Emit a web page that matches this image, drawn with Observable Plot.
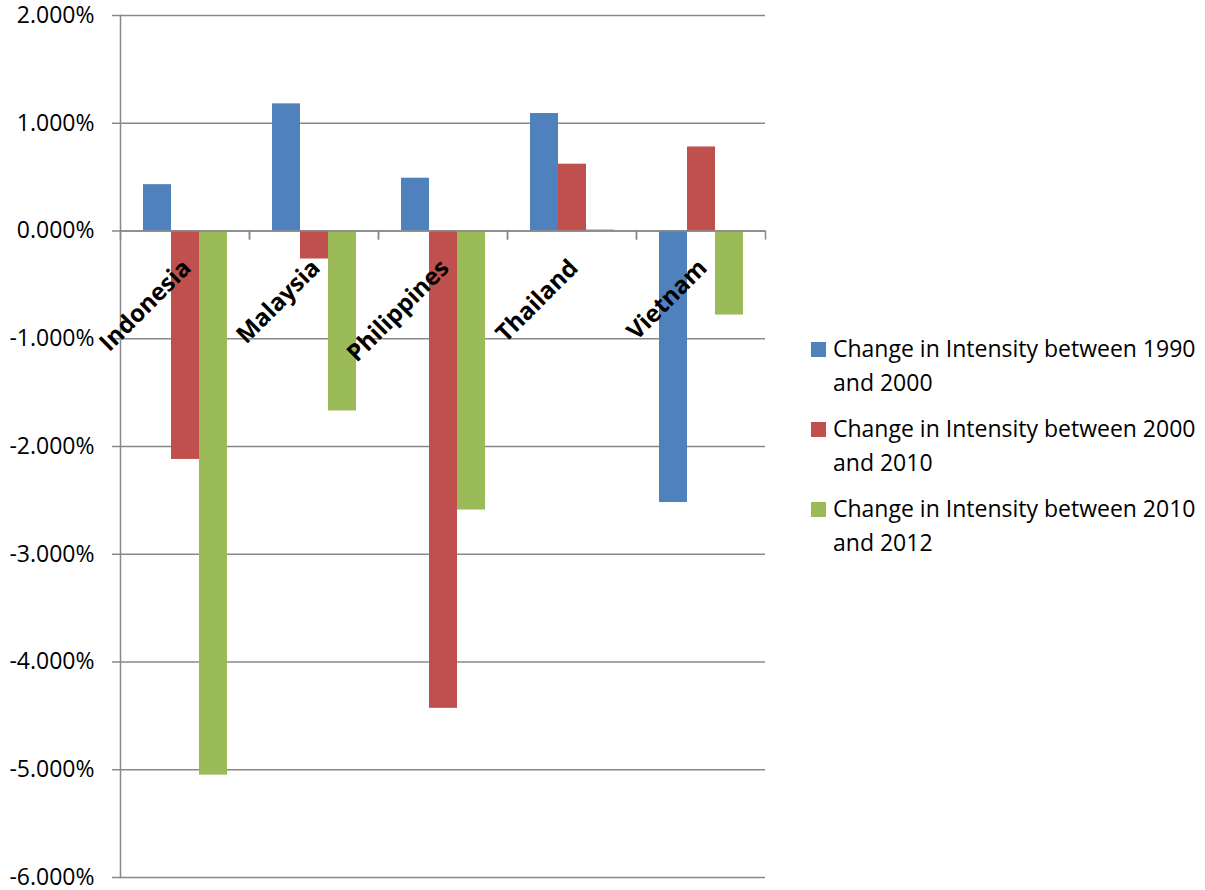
<!DOCTYPE html>
<html>
<head>
<meta charset="utf-8">
<script src="https://cdn.jsdelivr.net/npm/d3@7"></script>
<script src="https://cdn.jsdelivr.net/npm/@observablehq/plot@0.6"></script>
<style>
  html, body { margin: 0; padding: 0; background: #fff; }
  #wrap { position: relative; width: 1205px; height: 890px; font-family: "Open Sans", sans-serif; }
  #legend { position: absolute; left: 0; top: 0; }
  .entry { position: absolute; left: 811px; white-space: nowrap; font-size: 23px; line-height: 34px; color: #000; }
  .swatch { position: absolute; left: 0; top: 11px; width: 15px; height: 15px; }
  .label { position: absolute; left: 22px; top: 0; }
</style>
</head>
<body>
<div id="wrap"><div id="chart"></div><div id="legend"></div></div>
<script>
const countries = ["Indonesia", "Malaysia", "Philippines", "Thailand", "Vietnam"];
const seriesNames = [
  "Change in Intensity between 1990 and 2000",
  "Change in Intensity between 2000 and 2010",
  "Change in Intensity between 2010 and 2012"
];
// values in percent
const change1990_2000 = [0.43, 1.18, 0.49, 1.09, -2.52];
const change2000_2010 = [-2.12, -0.26, -4.43, 0.62, 0.78];
const change2010_2012 = [-5.05, -1.67, -2.59, 0.01, -0.78];
const yTicks = [2, 1, 0, -1, -2, -3, -4, -5, -6];
const seriesColors = ["#4F81BD", "#C0504D", "#9BBB59"];
const gray = "#888888";

const seriesValues = [change1990_2000, change2000_2010, change2010_2012];
const data = countries.flatMap((c, i) =>
  seriesNames.map((s, j) => ({country: c, series: s, value: seriesValues[j][i]}))
);

const chart = Plot.plot({
  width: 1205,
  height: 890,
  marginLeft: 118,
  marginRight: 438,
  marginTop: 15,
  marginBottom: 13,
  style: {fontFamily: "'Open Sans', sans-serif", fontSize: "22px", color: "#000", background: "#fff", overflow: "visible"},
  fx: {domain: countries, padding: 0, axis: null},
  x: {domain: seriesNames, paddingInner: 0, paddingOuter: 0.75, axis: null},
  y: {domain: [-6, 2], axis: null},
  color: {domain: seriesNames, range: seriesColors},
  marks: [
    Plot.gridY(yTicks, {stroke: gray, strokeOpacity: 1, strokeWidth: 1.5}),
    Plot.axisY(yTicks, {
      label: null, tickSize: 8, tickPadding: 18, stroke: gray, strokeWidth: 1.5, fill: "#000",
      fontSize: 23, tickFormat: d => d.toFixed(3) + "%"
    }),
    Plot.barY(data, {fx: "country", x: "series", y: "value", fill: "series"}),
    Plot.ruleY([0], {stroke: gray, strokeWidth: 1.5}),
    Plot.frame({anchor: "left", facetAnchor: "left", stroke: gray, strokeWidth: 1.5}),
    Plot.vector(countries, {
      fx: d => d, y: d => 0, frameAnchor: "left", length: 8, rotate: 180, anchor: "start",
      shape: {draw(ctx, l) { ctx.moveTo(0, 0); ctx.lineTo(0, -l); }},
      stroke: gray, strokeWidth: 1.5
    }),
    Plot.vector(countries, {
      fx: d => d, y: d => 0, frameAnchor: "right", length: 8, rotate: 180, anchor: "start",
      shape: {draw(ctx, l) { ctx.moveTo(0, 0); ctx.lineTo(0, -l); }},
      stroke: gray, strokeWidth: 1.5
    }),
    Plot.text(countries, {
      fx: d => d, y: d => 0, text: d => d, rotate: -45, textAnchor: "end",
      fontWeight: "bold", fontSize: 24, fill: "#000", dx: 2, dy: 33
    })
  ]
});
document.getElementById("chart").appendChild(chart);

const legend = document.getElementById("legend");
seriesNames.forEach((name, j) => {
  const k = name.lastIndexOf(" and ");
  const entry = document.createElement("div");
  entry.className = "entry";
  entry.style.top = (331 + j * 80) + "px";
  const sw = document.createElement("div");
  sw.className = "swatch";
  sw.style.background = seriesColors[j];
  const lab = document.createElement("div");
  lab.className = "label";
  lab.innerHTML = name.slice(0, k) + "<br>" + name.slice(k + 1);
  entry.appendChild(sw);
  entry.appendChild(lab);
  legend.appendChild(entry);
});
</script>
</body>
</html>
